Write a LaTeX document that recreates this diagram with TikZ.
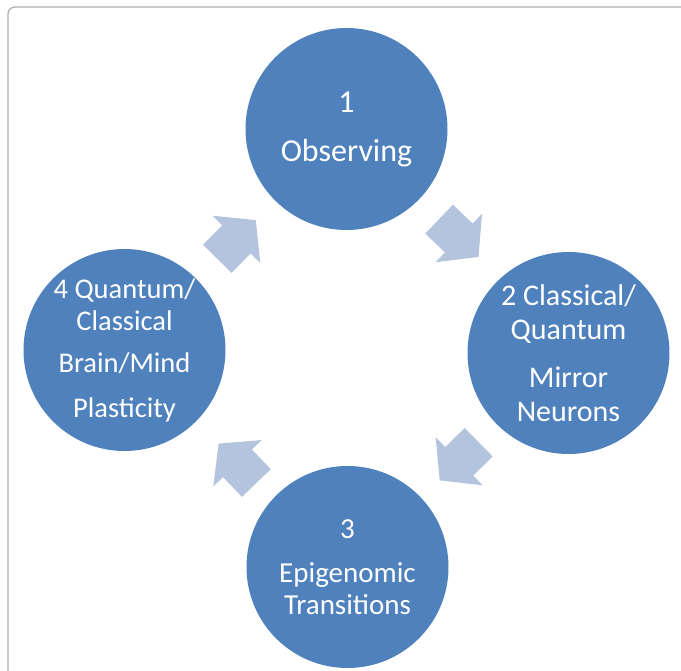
\documentclass[tikz,border=0pt]{standalone}
\usepackage{fontspec}
\setmainfont{Carlito}
\definecolor{circblue}{RGB}{79,129,189}
\definecolor{arrblue}{RGB}{180,196,222}
\definecolor{framegray}{RGB}{175,175,175}
\begin{document}
\begin{tikzpicture}[x=1pt,y=-1pt,
  cyc/.style={circle, fill=circblue, text=white, minimum size=202pt, inner sep=0pt, align=center},
  blockarr/.pic={\fill[arrblue] (-27.3,-20) -- (0,-20) -- (0,-33.6) -- (27.3,0) -- (0,33.6) -- (0,20) -- (-27.3,20) -- cycle;}]
\useasboundingbox (0,0) rectangle (681,671);
\clip (0,0) rectangle (681,671);
\draw[framegray, line width=1.3pt, rounded corners=7pt] (8,700) -- (8,7) -- (700,7);

\node[cyc, font=\fontsize{32}{34}\selectfont] (c1) at (346.5,129) {1\\[15pt]Observing};
\node[cyc, font=\fontsize{30}{34}\selectfont] (c2) at (568.5,353) {2 Classical/\\Quantum\\[14pt]Mirror\\Neurons};
\node[cyc, font=\fontsize{29}{32}\selectfont] (c3) at (347.5,567) {3\\[12pt]Epigenomic\\Transitions};
\node[cyc, font=\fontsize{28.5}{32}\selectfont] (c4) at (124.5,350) {4 Quantum/\\Classical\\[10pt]Brain/Mind\\[13pt]Plasticity};

\pic[rotate=45.2] at (236.5,239.4) {blockarr};
\pic[rotate=-43.8] at (458.8,238) {blockarr};
\pic[rotate=-135.6] at (459.2,461.3) {blockarr};
\pic[rotate=133.8] at (237.5,463.3) {blockarr};
\end{tikzpicture}
\end{document}
